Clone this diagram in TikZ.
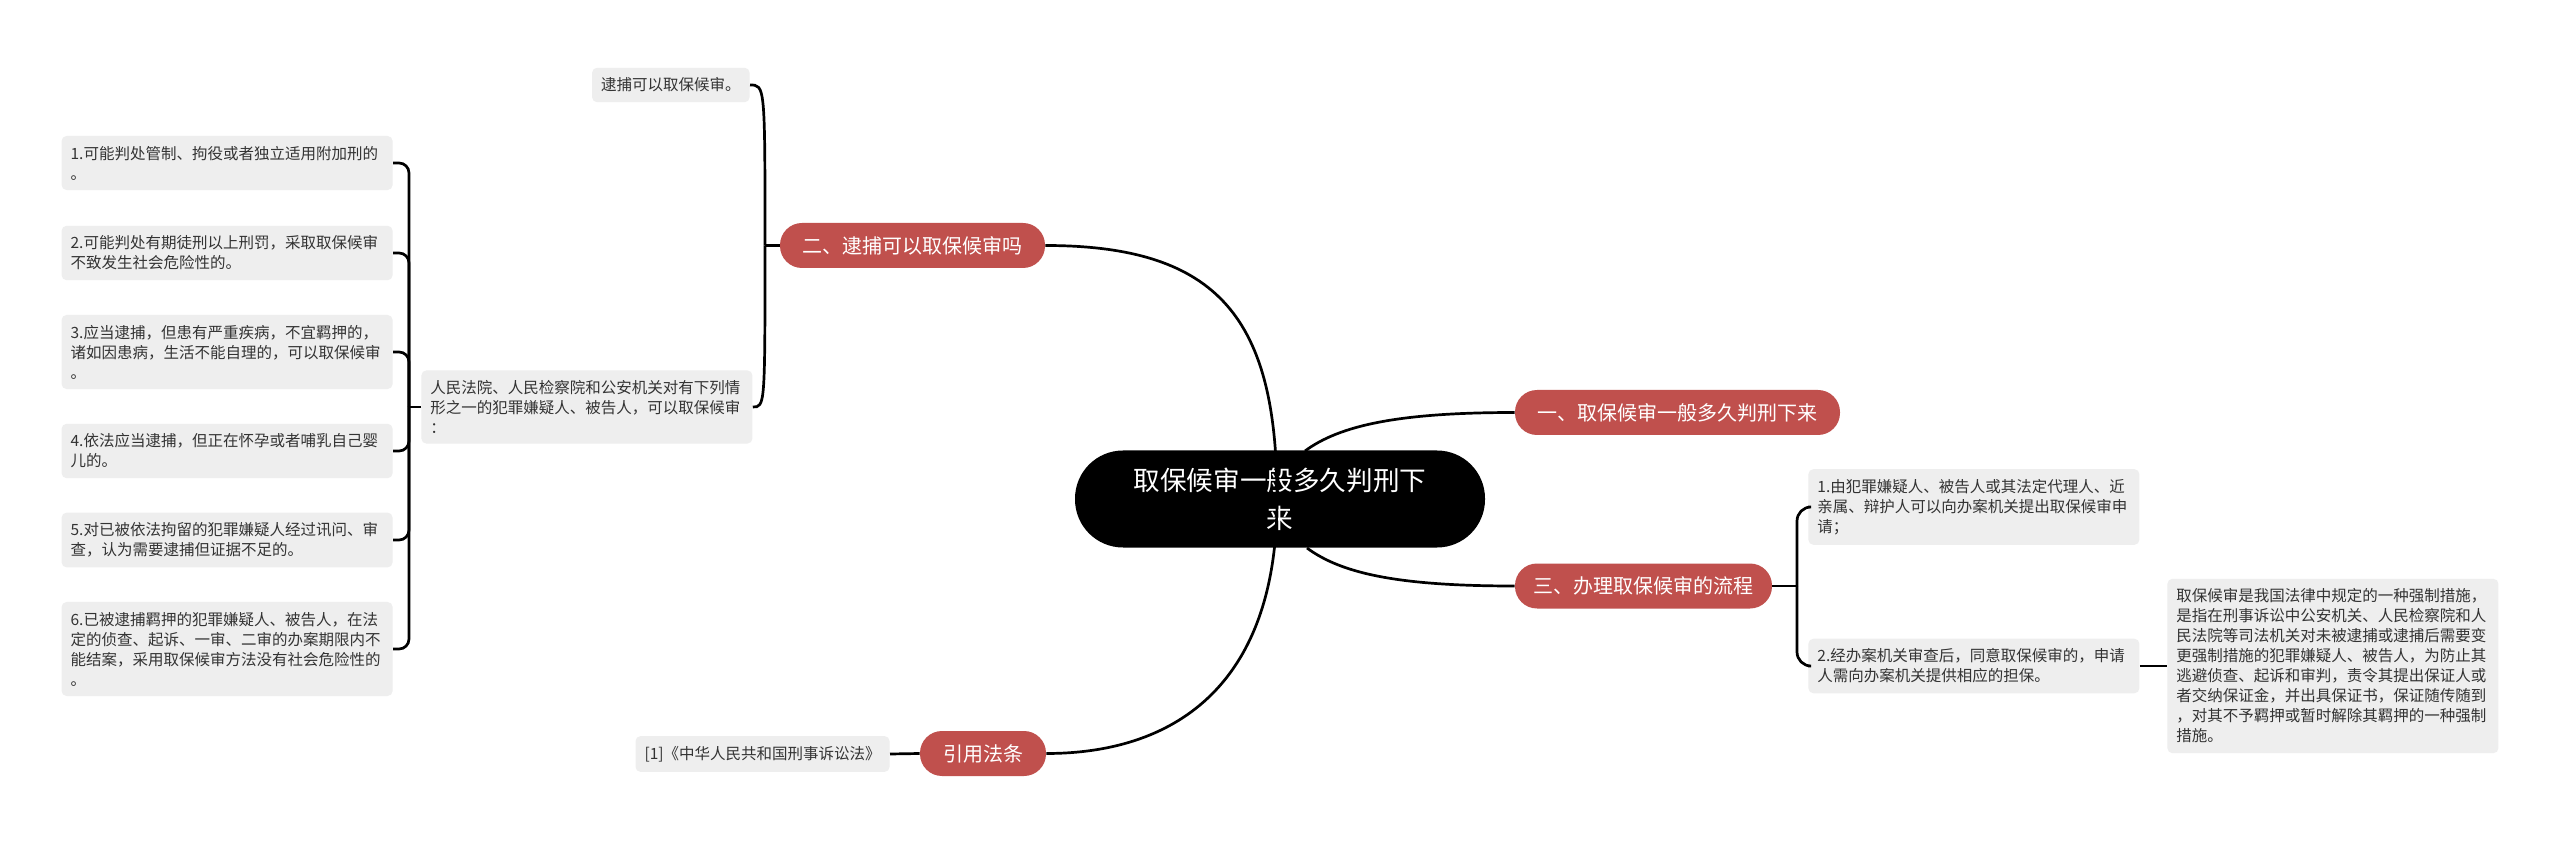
\documentclass[tikz,border=0pt]{standalone}
\usepackage{fontspec}
\newfontfamily\cjk{Noto Sans CJK SC}
\definecolor{branchred}{HTML}{C0504D}
\definecolor{leafgray}{HTML}{EEEEEE}
\definecolor{leaftext}{HTML}{333333}
\begin{document}
\begin{tikzpicture}[x=0.5pt,y=-0.5pt,
  leaf/.style={draw=none, fill=leafgray, rounded corners=2.5pt, font=\cjk\fontsize{7.75}{10}\selectfont, text=leaftext, align=left, inner xsep=4.5pt, inner ysep=5pt},
  wideleaf/.style={leaf, text width=156.5pt},
  branch/.style={fill=branchred, text=white, font=\cjk\fontsize{10}{12}\selectfont, rounded corners=11pt, minimum height=22.5pt, inner xsep=0pt, inner ysep=0pt},
  root/.style={fill=black, text=white, font=\cjk\fontsize{13.3}{19}\selectfont, rounded corners=24pt, minimum width=205pt, minimum height=48.5pt, align=center},
  link/.style={draw=black, line width=1.35pt},
]
\fill[white] (0,0) rectangle (2560,844);
\useasboundingbox (0,0) rectangle (2560,844);

% root
\node[root] (root) at (1280,499) {取保候审一般多久判刑下\\来};

% main branches
\node[branch, minimum width=132.5pt] (b2) at (912.5,245.5) {二、逮捕可以取保候审吗};
\node[branch, minimum width=162.5pt] (b1) at (1677.5,412.5) {一、取保候审一般多久判刑下来};
\node[branch, minimum width=128.5pt] (b3) at (1643.5,586) {三、办理取保候审的流程};
\node[branch, minimum width=63pt] (b4) at (983,753.5) {引用法条};

% leaves of branch 2
\node[leaf, anchor=east] (dai) at (750,85) {逮捕可以取保候审。};
\node[wideleaf, anchor=west] (ren) at (421,407) {人民法院、人民检察院和公安机关对有下列情\\形之一的犯罪嫌疑人、被告人，可以取保候审\\：};

\node[wideleaf, anchor=east] (l1) at (393,163) {1.可能判处管制、拘役或者独立适用附加刑的\\。};
\node[wideleaf, anchor=east] (l2) at (393,253) {2.可能判处有期徒刑以上刑罚，采取取保候审\\不致发生社会危险性的。};
\node[wideleaf, anchor=east] (l3) at (393,352) {3.应当逮捕，但患有严重疾病，不宜羁押的，\\诸如因患病，生活不能自理的，可以取保候审\\。};
\node[wideleaf, anchor=east] (l4) at (393,451) {4.依法应当逮捕，但正在怀孕或者哺乳自己婴\\儿的。};
\node[wideleaf, anchor=east] (l5) at (393,540) {5.对已被依法拘留的犯罪嫌疑人经过讯问、审\\查，认为需要逮捕但证据不足的。};
\node[wideleaf, anchor=east] (l6) at (393,649) {6.已被逮捕羁押的犯罪嫌疑人、被告人，在法\\定的侦查、起诉、一审、二审的办案期限内不\\能结案，采用取保候审方法没有社会危险性的\\。};

% leaves of branch 3
\node[wideleaf, anchor=west] (r1) at (1808,507) {1.由犯罪嫌疑人、被告人或其法定代理人、近\\亲属、辩护人可以向办案机关提出取保候审申\\请；};
\node[wideleaf, anchor=west] (r2) at (1808,666) {2.经办案机关审查后，同意取保候审的，申请\\人需向办案机关提供相应的担保。};
\node[wideleaf, anchor=west] (qb) at (2167,666) {取保候审是我国法律中规定的一种强制措施，\\是指在刑事诉讼中公安机关、人民检察院和人\\民法院等司法机关对未被逮捕或逮捕后需要变\\更强制措施的犯罪嫌疑人、被告人，为防止其\\逃避侦查、起诉和审判，责令其提出保证人或\\者交纳保证金，并出具保证书，保证随传随到\\，对其不予羁押或暂时解除其羁押的一种强制\\措施。};

% citation leaf
\node[leaf, anchor=east] (cite) at (890,754) {[1]《中华人民共和国刑事诉讼法》};

% connectors from root
\coordinate (hub) at (1277,499);
\coordinate (c1) at (1305,451);
\coordinate (c3) at (1307,548);
\draw[link] (hub) .. controls (1277,320) and (1220,245.5) .. (b2.east);
\draw[link] (hub) .. controls (1277,690) and (1170,753.5) .. (b4.east);
\draw[link] (c1) .. controls (1340,425) and (1400,412.5) .. (b1.west);
\draw[link] (c3) .. controls (1342,574) and (1400,586) .. (b3.west);

% branch 2 bracket
\coordinate (j2) at (765,245.5);
\draw[link] (b2.west) -- (j2);
\draw[link] (j2) .. controls (765,85) .. (dai.east);
\draw[link] (j2) .. controls (765,407) .. (ren.east);

% left bracket
\coordinate (jl) at (409,407);
\draw[link] (ren.west) -- (jl);
\foreach \n in {l1,l2,l3,l4,l5,l6} \draw[link, rounded corners=5pt] (jl) |- (\n.east);

% right bracket
\coordinate (jr) at (1797,586);
\draw[link] (b3.east) -- (jr);
\draw[link, rounded corners=7pt] (jr) |- (r1.west);
\draw[link, rounded corners=7pt] (jr) |- (r2.west);
\draw[link] (r2.east) -- (qb.west);

% citation link
\draw[link] (b4.west) -- (cite.east);
\end{tikzpicture}
\end{document}
